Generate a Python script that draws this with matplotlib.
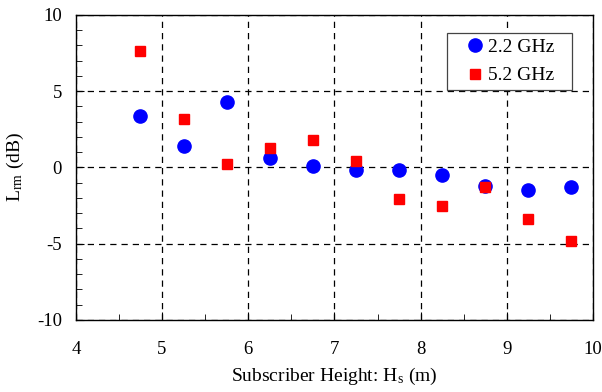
import matplotlib.pyplot as plt
from matplotlib.patches import Rectangle
from matplotlib.ticker import MultipleLocator

plt.rcParams['font.family'] = ['Liberation Serif', 'DejaVu Serif']
plt.rcParams['mathtext.fontset'] = 'stix'
plt.rcParams['axes.unicode_minus'] = False

# subscriber heights (m)
heights = [4.75, 5.25, 5.75, 6.25, 6.75, 7.25, 7.75, 8.25, 8.75, 9.25, 9.75]
# L_rm values (dB)
lrm_22 = [3.4, 1.4, 4.3, 0.6, 0.1, -0.2, -0.2, -0.5, -1.2, -1.5, -1.3]
lrm_52 = [7.6, 3.2, 0.2, 1.3, 1.8, 0.4, -2.1, -2.5, -1.3, -3.4, -4.8]

fig, ax = plt.subplots(figsize=(6.02, 3.92), dpi=100)
fig.subplots_adjust(left=0.126, right=0.985, top=0.962, bottom=0.184)

ax.plot(heights, lrm_22, 'o', color='#0000ff', markersize=9.5, label='2.2 GHz', zorder=3)
ax.plot(heights, lrm_52, 's', color='#ff0000', markersize=7, label='5.2 GHz', zorder=3)

ax.set_xlim(4, 10)
ax.set_ylim(-10, 10)
ax.xaxis.set_major_locator(MultipleLocator(1))
ax.xaxis.set_minor_locator(MultipleLocator(0.5))
ax.yaxis.set_major_locator(MultipleLocator(5))
ax.yaxis.set_minor_locator(MultipleLocator(1))
ax.tick_params(which='both', direction='in', labelsize=13.5, color='black')
ax.tick_params(axis='x', which='both', pad=15)
ax.tick_params(axis='y', which='both', pad=10)
ax.tick_params(which='major', length=6)
ax.tick_params(which='minor', length=4)

ax.grid(True, which='major', linestyle=(0, (5, 4)), color='black', linewidth=0.9)
for s in ax.spines.values():
    s.set_linewidth(1.0)

ax.set_xlabel('Subscriber Height: H$_\\mathregular{s}$ (m)', fontsize=14, labelpad=6)
ax.set_ylabel('L$_\\mathregular{rm}$ (dB)', fontsize=14, labelpad=8)

# legend frame drawn separately to get the wide side padding
ax.add_patch(Rectangle((0.7176, 0.754), 0.2414, 0.187, transform=ax.transAxes,
                       facecolor='white', edgecolor='#444444', linewidth=0.9, zorder=4))
leg = ax.legend(loc='center', bbox_to_anchor=(0.840, 0.8475), fontsize=14,
                frameon=False, borderpad=0, handletextpad=0.25,
                labelspacing=0.55, handlelength=0.9)
leg.set_zorder(5)

fig.savefig('out.png', dpi=100)
